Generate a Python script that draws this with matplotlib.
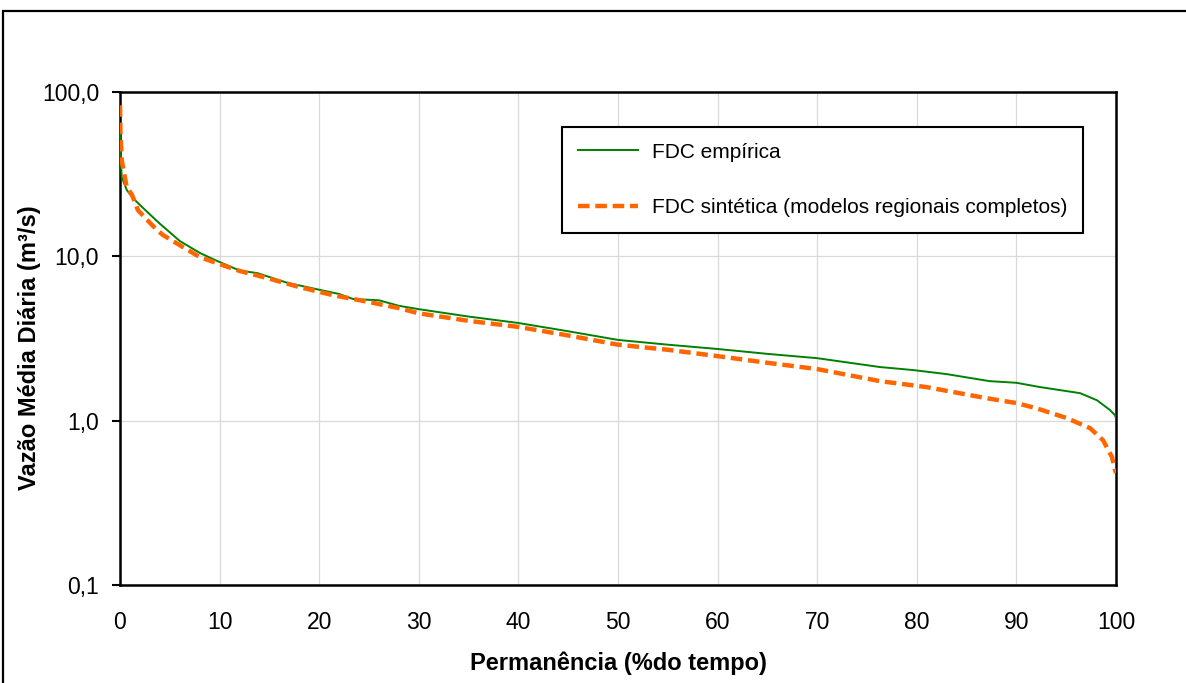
import matplotlib
matplotlib.use("Agg")
import matplotlib.pyplot as plt
from matplotlib.ticker import FixedLocator, FuncFormatter, NullLocator
from matplotlib.patches import Rectangle

plt.rcParams['font.family'] = ['Liberation Sans', 'DejaVu Sans']

# Curva de permanência empírica (% do tempo, vazão m³/s)
perm_emp = [0, 0.05, 0.17, 0.67, 1.3, 2.2, 3.3, 4.0, 6.0, 8.0, 9.7, 12.0, 13.8,
            16.8, 19.8, 22.0, 23.4, 26.0, 28.0, 30.0, 35.0, 40.0, 45.0, 50.0,
            55.0, 60.0, 65.0, 70.0, 76.3, 79.7, 83.0, 87.3, 90.0, 92.4, 96.4,
            98.1, 99.4, 99.9, 100.0]
q_emp = [55.0, 42.0, 30.4, 25.4, 22.6, 20.0, 17.3, 15.8, 12.4, 10.5, 9.4, 8.2,
         7.9, 6.9, 6.3, 5.9, 5.5, 5.4, 5.0, 4.77, 4.3, 3.93, 3.5, 3.1, 2.9,
         2.73, 2.55, 2.4, 2.12, 2.03, 1.92, 1.74, 1.7, 1.6, 1.47, 1.33, 1.16,
         1.08, 1.03]

# Curva de permanência sintética (modelos regionais completos)
perm_sint = [0, 0.05, 0.17, 0.67, 1.2, 1.8, 3.0, 3.7, 4.3, 6.3, 8.0, 9.7, 12.0,
             14.7, 18.0, 21.4, 24.8, 28.0, 30.0, 35.0, 40.0, 45.0, 50.0, 55.0,
             60.0, 65.0, 70.0, 76.3, 81.0, 87.0, 90.0, 92.0, 95.0, 97.4, 98.7,
             99.6, 99.9, 100.0]
q_sint = [83.0, 55.0, 38.5, 26.4, 23.7, 19.1, 16.0, 14.5, 13.5, 11.4, 9.9, 9.1,
          8.15, 7.4, 6.5, 5.8, 5.3, 4.84, 4.5, 4.05, 3.72, 3.3, 2.9, 2.7,
          2.47, 2.25, 2.06, 1.74, 1.6, 1.37, 1.28, 1.19, 1.04, 0.9, 0.76,
          0.6, 0.5, 0.48]

x_ticks = [0, 10, 20, 30, 40, 50, 60, 70, 80, 90, 100]
y_ticks = [0.1, 1.0, 10.0, 100.0]

W, H = 1186, 683
fig = plt.figure(figsize=(W / 100, H / 100), dpi=100)
ax = fig.add_axes([120 / W, 1 - 585 / H, 996 / W, 493 / H])

# moldura externa da área do gráfico
fig.patches.append(Rectangle((3 / W, -0.05), 1.1, 1 - 11 / H + 0.05,
                             transform=fig.transFigure, fill=False,
                             edgecolor='black', linewidth=1.6, zorder=0))

ax.plot(perm_emp, q_emp, color='#008000', linewidth=1.4, label='FDC empírica',
        zorder=3)
ax.plot(perm_sint, q_sint, color='#FF6600', linewidth=3.2,
        linestyle=(0, (2.6, 1.3)), label='FDC sintética (modelos regionais completos)',
        zorder=4)

ax.set_yscale('log')
ax.set_xlim(0, 100)
ax.set_ylim(0.1, 100)
ax.xaxis.set_major_locator(FixedLocator(x_ticks))
ax.yaxis.set_major_locator(FixedLocator(y_ticks))
ax.yaxis.set_minor_locator(NullLocator())
ax.yaxis.set_major_formatter(FuncFormatter(lambda v, p: f"{v:.1f}".replace('.', ',')))
ax.xaxis.set_major_formatter(FuncFormatter(lambda v, p: f"{v:.0f}"))

ax.grid(True, which='major', color='#d9d9d9', linewidth=0.9)
ax.set_axisbelow(True)
for s in ax.spines.values():
    s.set_linewidth(1.8)
    s.set_color('black')

ax.tick_params(axis='x', length=0, pad=18.5, labelsize=16.5)
ax.tick_params(axis='y', direction='out', length=6, width=1.5, pad=9, labelsize=16.5)

ax.set_xlabel('Permanência (%do tempo)', fontsize=17, fontweight='bold', labelpad=13)
ax.set_ylabel('Vazão Média Diária (m³/s)', fontsize=17, fontweight='bold')
ax.yaxis.set_label_coords(-0.0793, 0.482)

leg = ax.legend(loc='upper left', bbox_to_anchor=(0.4438, 0.929), fontsize=15,
                frameon=True, fancybox=False, edgecolor='black', framealpha=1,
                borderpad=0.75, labelspacing=1.75, handlelength=2.9,
                handletextpad=0.65, borderaxespad=0)
leg.get_frame().set_linewidth(1.5)

fig.savefig('out.png', dpi=100)
